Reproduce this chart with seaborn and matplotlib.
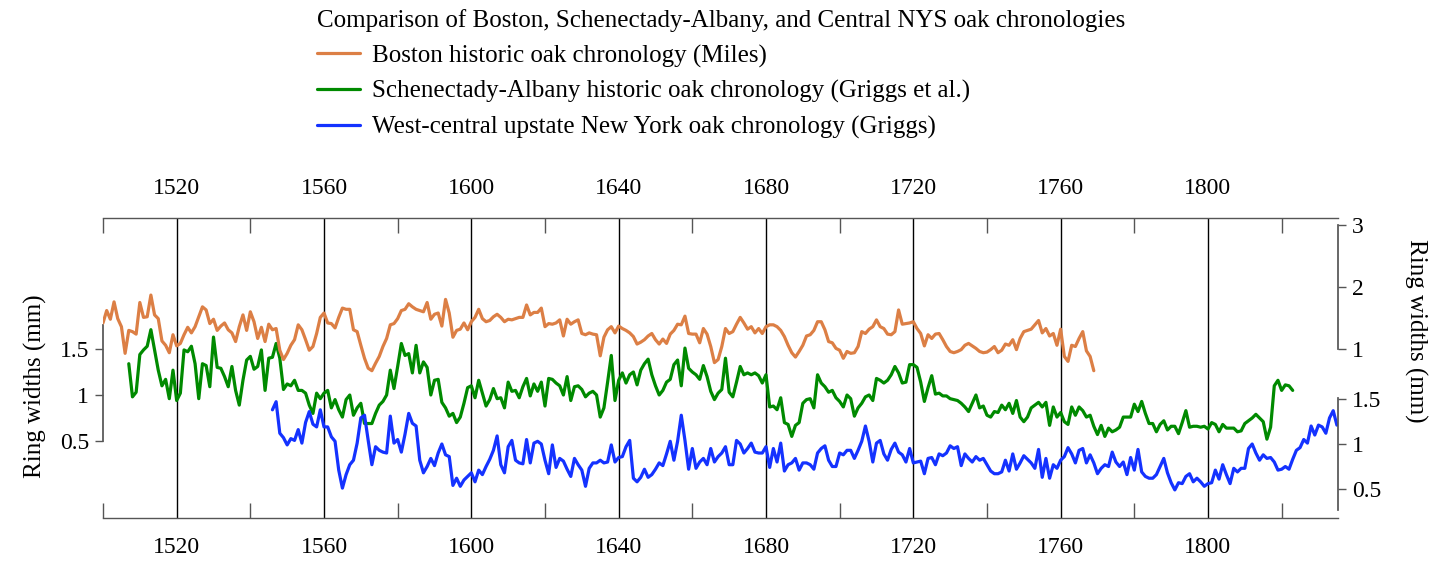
import numpy as np
import seaborn as sns
import matplotlib.pyplot as plt
from matplotlib.lines import Line2D

# Ring-width chronologies (mm), one value per year
BOSTON_START = 1500
boston_rw = [
    1.42, 1.62, 1.48, 1.76, 1.49, 1.36, 0.93, 1.30, 1.28, 1.24,
    1.75, 1.51, 1.52, 1.87, 1.55, 1.49, 1.13, 1.06, 0.94, 1.23,
    1.05, 1.09, 1.23, 1.35, 1.26, 1.36, 1.52, 1.68, 1.63, 1.41,
    1.48, 1.30, 1.37, 1.42, 1.31, 1.26, 1.12, 1.36, 1.55, 1.30,
    1.60, 1.44, 1.17, 1.35, 1.12, 1.40, 1.31, 1.33, 0.98, 0.83,
    0.93, 1.06, 1.15, 1.39, 1.31, 1.15, 0.98, 1.04, 1.25, 1.51,
    1.58, 1.42, 1.41, 1.34, 1.51, 1.66, 1.64,
    1.64, 1.31, 1.28, 1.06, 0.85, 0.69, 0.65, 0.77, 0.88, 1.04,
    1.17, 1.39, 1.41, 1.49, 1.62, 1.64, 1.73, 1.68, 1.64, 1.62,
    1.60, 1.75, 1.48, 1.56, 1.58, 1.37, 1.80, 1.58, 1.19, 1.30,
    1.32, 1.42, 1.31, 1.44, 1.51, 1.64, 1.49, 1.44, 1.46, 1.52,
    1.56, 1.51, 1.44, 1.48, 1.47, 1.49, 1.51, 1.51, 1.71, 1.55,
    1.59, 1.59, 1.66, 1.36, 1.41, 1.40, 1.42, 1.47, 1.21, 1.48,
    1.40, 1.44, 1.47, 1.25, 1.23, 1.26, 1.24,
    1.23, 0.89, 1.19, 1.31, 1.36, 1.26, 1.37, 1.33, 1.30, 1.26,
    1.20, 1.08, 1.11, 1.15, 1.21, 1.25, 1.15, 1.08, 1.16, 1.09,
    1.24, 1.30, 1.40, 1.39, 1.53, 1.25, 1.24, 1.24, 1.10, 1.33,
    1.24, 1.04, 0.78, 0.83, 1.04, 1.33, 1.25, 1.28, 1.40, 1.51,
    1.42, 1.32, 1.36, 1.26, 1.33, 1.25, 1.36, 1.39, 1.39, 1.36,
    1.30, 1.20, 1.06, 0.94, 0.87, 0.96, 1.06, 1.21, 1.23, 1.30,
    1.44, 1.44, 1.31, 1.12, 1.10, 1.01, 0.98,
    0.85, 0.96, 0.93, 0.94, 1.04, 1.28, 1.25, 1.32, 1.36, 1.47,
    1.36, 1.33, 1.24, 1.23, 1.28, 1.63, 1.40, 1.41, 1.42, 1.44,
    1.33, 1.25, 1.05, 1.23, 1.17, 1.24, 1.25, 1.15, 1.04, 0.96,
    0.94, 0.96, 0.99, 1.06, 1.09, 1.05, 1.01, 0.96, 0.94, 0.95,
    0.99, 1.04, 0.94, 0.98, 1.08, 1.06, 1.15, 0.99, 1.17, 1.28,
    1.30, 1.32, 1.39, 1.46, 1.26, 1.33, 1.21, 1.25, 1.06, 1.32,
    0.88, 0.80, 1.06, 1.04, 1.17, 1.28,
    0.97, 0.88, 0.65,
]

ALBANY_START = 1507
albany_rw = [
    1.34, 0.98, 1.03, 1.44, 1.49, 1.53, 1.71, 1.49, 1.27, 1.10, 1.17, 0.96, 1.27,
    0.94, 1.02, 1.49, 1.47, 1.53, 1.34, 0.96, 1.34, 1.32, 1.09,
    1.63, 1.30, 1.29, 1.20, 1.09, 1.31, 1.05, 0.89, 1.16, 1.38,
    1.42, 1.28, 1.31, 1.49, 1.05, 1.40, 1.41, 1.56, 1.40, 1.06,
    1.12, 1.10, 1.16, 1.05, 1.05, 1.02, 0.89, 0.80, 1.02, 0.96,
    1.02, 1.05, 0.86, 0.95, 0.84, 0.76, 0.95, 1.00,
    0.78, 0.86, 0.91, 0.69, 0.69, 0.69, 0.80, 0.89, 0.93, 1.00,
    1.27, 1.07, 1.31, 1.56, 1.43, 1.45, 1.24, 1.54, 1.24, 1.36,
    1.30, 1.00, 1.16, 1.17, 0.92, 0.86, 0.77, 0.80, 0.70, 0.76,
    0.91, 1.08, 1.10, 0.97, 1.16, 1.02, 0.88, 0.95, 1.07, 0.96,
    0.97, 0.86, 1.14, 1.04, 1.05, 0.97, 1.09, 1.18, 0.99, 1.12,
    1.04, 1.14, 0.88, 1.18, 1.17, 1.13, 1.10, 1.00, 1.20, 0.94,
    1.09, 1.10, 1.06, 0.98, 1.02, 1.04,
    1.00, 0.76, 0.86, 1.14, 1.43, 0.94, 1.16, 1.24, 1.13, 1.22,
    1.25, 1.11, 1.27, 1.34, 1.39, 1.22, 1.10, 1.00, 1.05, 1.14,
    1.17, 1.33, 1.38, 1.10, 1.51, 1.29, 1.25, 1.22, 1.17, 1.32,
    1.20, 1.04, 0.95, 1.02, 1.06, 1.40, 1.03, 0.98, 1.14, 1.31,
    1.22, 1.24, 1.22, 1.24, 1.21, 1.13, 1.22, 0.87, 0.88, 0.84,
    0.97, 0.70, 0.68, 0.55, 0.67, 0.70, 0.91, 0.95, 0.96, 0.86,
    1.22, 1.13, 1.09, 1.03, 1.05, 0.97, 0.93,
    0.87, 1.00, 0.96, 0.77, 0.86, 0.91, 0.98, 1.00, 0.94, 1.18,
    1.16, 1.13, 1.16, 1.22, 1.31, 1.24, 1.13, 1.14, 1.33, 1.33,
    1.30, 1.14, 0.93, 1.08, 1.21, 1.01, 1.02, 0.99, 0.99, 0.96,
    0.95, 0.94, 0.91, 0.87, 0.82, 0.91, 1.00, 0.86, 0.88, 0.78,
    0.76, 0.82, 0.81, 0.89, 0.84, 0.91, 0.80, 0.94, 0.76, 0.71,
    0.76, 0.86, 0.89, 0.92, 0.87, 0.92, 0.67, 0.87, 0.76, 0.81,
    0.71, 0.68, 0.87, 0.78, 0.87, 0.83,
    0.76, 0.78, 0.66, 0.57, 0.67, 0.55, 0.64, 0.60, 0.62, 0.65,
    0.76, 0.76, 0.76, 0.90, 0.82, 0.93, 0.80, 0.69, 0.69, 0.60,
    0.68, 0.72, 0.62, 0.66, 0.66, 0.58, 0.70, 0.83, 0.65, 0.66,
    0.66, 0.65, 0.66, 0.63, 0.70, 0.68, 0.60, 0.68, 0.64, 0.64,
    0.64, 0.60, 0.61, 0.69, 0.72, 0.75, 0.79, 0.75, 0.71, 0.52,
    0.65, 1.10, 1.16, 1.05, 1.11, 1.10, 1.05,
]

NYS_START = 1546
nys_rw = [
    1.38, 1.47, 1.12, 1.07, 0.99, 1.06, 1.04, 1.16, 1.01, 1.24, 1.36,
    1.22, 1.19, 1.38, 1.19, 1.19, 1.08, 1.03, 0.71, 0.51, 0.66, 0.77,
    0.82, 1.01, 1.29, 1.32, 1.04, 0.77, 0.97, 0.93, 0.91, 0.90,
    1.31, 1.01, 1.05, 0.91, 1.11, 1.34, 1.23, 1.20, 0.82, 0.68,
    0.75, 0.84, 0.76, 0.90, 1.00, 0.88, 0.86, 0.54, 0.62, 0.53,
    0.60, 0.64, 0.68, 0.58, 0.71, 0.66, 0.75, 0.83, 0.93, 1.09,
    0.77, 0.68, 0.97, 1.04, 0.82, 0.79, 0.78, 1.05, 0.79, 1.01,
    1.03, 1.00, 0.82, 0.67, 0.99, 0.74, 0.84, 0.81, 0.72, 0.64,
    0.84, 0.77, 0.71, 0.53, 0.73, 0.79,
    0.79, 0.82, 0.79, 0.80, 0.99, 0.80, 0.85, 0.86, 0.97, 1.04,
    0.62, 0.58, 0.63, 0.72, 0.63, 0.66, 0.72, 0.79, 0.76, 0.89,
    1.03, 0.82, 1.03, 1.32, 1.04, 0.72, 0.95, 0.73, 0.80, 0.84,
    0.77, 0.95, 0.80, 0.86, 0.90, 0.97, 0.77, 0.77, 1.04, 1.00,
    0.90, 0.95, 1.01, 0.91, 0.90, 0.90, 0.97, 0.74, 0.95, 0.80,
    1.01, 0.70, 0.77, 0.79, 0.84, 0.71, 0.79, 0.79, 0.77, 0.72,
    0.90, 0.95, 0.98, 0.82, 0.75, 0.75, 0.90,
    0.88, 0.93, 0.93, 0.84, 0.93, 1.03, 1.20, 1.03, 0.80, 1.01,
    1.04, 0.89, 0.82, 0.94, 1.01, 0.91, 0.88, 0.80, 0.95, 0.79,
    0.80, 0.81, 0.67, 0.84, 0.85, 0.77, 0.89, 0.87, 0.90, 0.98,
    0.95, 0.97, 0.76, 0.89, 0.84, 0.80, 0.86, 0.82, 0.84, 0.77,
    0.70, 0.67, 0.67, 0.69, 0.82, 0.70, 0.89, 0.72, 0.79, 0.87,
    0.83, 0.79, 0.73, 0.94, 0.63, 0.84, 0.62, 0.77, 0.73, 0.82,
    0.86, 0.96, 0.89, 0.79, 0.93, 0.95,
    0.79, 0.88, 0.79, 0.67, 0.73, 0.77, 0.75, 0.91, 0.80, 0.75,
    0.80, 0.66, 0.85, 0.71, 0.94, 0.69, 0.64, 0.62, 0.62, 0.66,
    0.75, 0.84, 0.68, 0.57, 0.49, 0.57, 0.56, 0.64, 0.67, 0.58,
    0.62, 0.58, 0.53, 0.56, 0.57, 0.71, 0.61, 0.77, 0.66, 0.56,
    0.73, 0.69, 0.73, 0.73, 0.95, 1.00, 0.90, 0.82, 0.88, 0.84,
    0.85, 0.80, 0.71, 0.72, 0.75, 0.72, 0.83, 0.93, 0.96, 1.05,
    1.01, 1.20, 1.10, 1.21, 1.19, 1.12, 1.29, 1.37, 1.21,
]

labels = [
    "Boston historic oak chronology (Miles)",
    "Schenectady-Albany historic oak chronology (Griggs et al.)",
    "West-central upstate New York oak chronology (Griggs)",
]
legend_title = "Comparison of Boston, Schenectady-Albany, and Central NYS oak chronologies"
colors = ["#dc7f45", "#008a00", "#1432ff"]

major_years = np.arange(1520, 1801, 40)
minor_years = np.arange(1500, 1821, 40)

sns.set_theme(style="white")
plt.rcParams["font.family"] = ["Liberation Serif", "DejaVu Serif"]
plt.rcParams["text.color"] = "black"
plt.rcParams["xtick.labelcolor"] = "black"
plt.rcParams["ytick.labelcolor"] = "black"
FS = 17     # tick labels
FS_TXT = 18  # axis titles and legend

W, H = 1433, 562
fig = plt.figure(figsize=(W / 100, H / 100), dpi=100)
ax = fig.add_axes([103 / W, 44 / H, 1235 / W, 300 / H])
ax_b = ax.twinx()
ax_w = ax.twinx()

yrs_b = np.arange(BOSTON_START, BOSTON_START + len(boston_rw))
yrs_a = np.arange(ALBANY_START, ALBANY_START + len(albany_rw))
yrs_w = np.arange(NYS_START, NYS_START + len(nys_rw))

sns.lineplot(x=yrs_b, y=boston_rw, ax=ax_b, color=colors[0], lw=2.3)
sns.lineplot(x=yrs_a, y=albany_rw, ax=ax, color=colors[1], lw=2.3)
sns.lineplot(x=yrs_w, y=nys_rw, ax=ax_w, color=colors[2], lw=2.3)

ax.set_xlim(1500, 1835.3)
ax.set_ylim(-0.337, 2.924)
ax_b.set_ylim(-1.726, 3.113)
ax_w.set_ylim(0.178, 3.511)

frame_col = "#555555"

# x axis: labels top and bottom, grid at the labelled years
ax.set_xticks(major_years)
ax.set_xticks(minor_years, minor=True)
ax.tick_params(axis="x", which="major", length=0, top=True, bottom=True,
               labeltop=True, labelbottom=True, labelsize=FS, pad=14)
ax.tick_params(axis="x", which="minor", direction="in", length=11, width=1,
               color=frame_col, top=True, bottom=True)
ax.grid(axis="x", which="major", color="black", lw=1)
ax.grid(axis="y", visible=False)

for a in (ax, ax_b, ax_w):
    for s in a.spines.values():
        s.set_visible(False)
    a.set_xlabel("")
    a.set_ylabel("")
    if a.get_legend() is not None:
        a.get_legend().remove()

for side in ("top", "bottom"):
    ax.spines[side].set_visible(True)
    ax.spines[side].set_color(frame_col)
    ax.spines[side].set_linewidth(1)

# left axis: Schenectady-Albany
ax.spines["left"].set_visible(True)
ax.spines["left"].set_bounds(0.5, 1.76)
ax.spines["left"].set_color(frame_col)
ax.set_yticks([0.5, 1, 1.5], ["0.5", "1", "1.5"])
ax.tick_params(axis="y", left=True, direction="out", length=6, width=1,
               color=frame_col, labelsize=FS, pad=4)

# right axes: Boston (upper) and west-central NY (lower)
ax_b.spines["right"].set_visible(True)
ax_b.spines["right"].set_bounds(1, 3)
ax_b.spines["right"].set_color(frame_col)
ax_b.set_yticks([1, 2, 3], ["1", "2", "3"])
ax_b.tick_params(axis="y", right=True, direction="out", length=6, width=1,
                 color=frame_col, labelsize=FS, pad=4)

ax_w.spines["right"].set_visible(True)
ax_w.spines["right"].set_bounds(0.27, 1.51)
ax_w.spines["right"].set_color(frame_col)
ax_w.set_yticks([0.5, 1, 1.5], ["0.5", "1", "1.5"])
ax_w.tick_params(axis="y", right=True, direction="out", length=6, width=1,
                 color=frame_col, labelsize=FS, pad=4)

fig.text(35 / W, 1 - 386 / H, "Ring widths (mm)", rotation=90,
         ha="center", va="center", fontsize=FS_TXT)
fig.text(1416 / W, 1 - 331 / H, "Ring widths (mm)", rotation=270,
         ha="center", va="center", fontsize=FS_TXT)

handles = [Line2D([], [], color=c, lw=2.3) for c in colors]
fig.legend(handles, labels, title=legend_title, loc="upper left",
           bbox_to_anchor=(317 / W, 1 - 9 / H), frameon=False,
           alignment="left", fontsize=FS_TXT, title_fontsize=FS_TXT,
           handlelength=1.7, handletextpad=0.5, labelspacing=0.5,
           borderpad=0, borderaxespad=0)

fig.savefig("out.png", dpi=100)
